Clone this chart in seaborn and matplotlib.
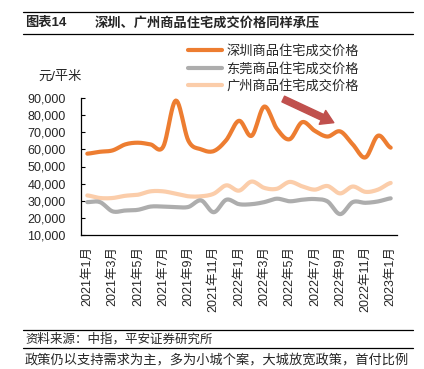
import numpy as np
import pandas as pd
import matplotlib
matplotlib.use("Agg")
import matplotlib.pyplot as plt
import seaborn as sns
from matplotlib.lines import Line2D

# monthly prices, yuan per square metre, 2021-01 .. 2023-01
months = [f"{y}年{m}月" for y in (2021, 2022) for m in range(1, 13)] + ["2023年1月"]
shenzhen = [57500, 58600, 59400, 62900, 63900, 62900, 61500, 88500, 65000, 60000,
            59000, 65500, 76700, 67900, 85000, 72000, 65900, 75900, 70800, 67500,
            70500, 62900, 55300, 68000, 61000]
dongguan = [29200, 29200, 23800, 24300, 24700, 26600, 26600, 26300, 26400, 30200,
            23300, 30600, 28000, 28000, 29200, 31200, 29700, 30600, 31000, 29600,
            22200, 29200, 28800, 29600, 31400]
guangzhou = [33100, 31600, 31600, 32900, 33500, 35500, 35500, 34100, 32600, 32600,
             34100, 39000, 35900, 41200, 37500, 37000, 41000, 38400, 36500, 38600,
             34300, 38300, 35200, 36500, 40400]
series_names = ["深圳商品住宅成交价格", "东莞商品住宅成交价格", "广州商品住宅成交价格"]
colors = ["#ED7D31", "#ADADAD", "#FBCDAA"]


def smooth(vals, steps=12):
    # catmull-rom curve through the points, like excel's smoothed line
    p = np.asarray(vals, dtype=float)
    p = np.concatenate([[p[0]], p, [p[-1]]])
    xs, ys = [], []
    for i in range(1, len(p) - 2):
        t = np.linspace(0, 1, steps, endpoint=False)
        p0, p1, p2, p3 = p[i - 1], p[i], p[i + 1], p[i + 2]
        y = 0.5 * (2 * p1 + (-p0 + p2) * t + (2 * p0 - 5 * p1 + 4 * p2 - p3) * t ** 2
                   + (-p0 + 3 * p1 - 3 * p2 + p3) * t ** 3)
        xs.append(i - 1 + t)
        ys.append(y)
    xs.append([len(vals) - 1])
    ys.append([vals[-1]])
    return np.concatenate(xs), np.concatenate(ys)


frames = []
for name, vals in zip(series_names, [shenzhen, dongguan, guangzhou]):
    xs, ys = smooth(vals)
    frames.append(pd.DataFrame({"x": xs, "price": ys, "series": name}))
df = pd.concat(frames, ignore_index=True)

sns.set_style("white")
plt.rcParams["font.family"] = ["Liberation Sans", "Noto Sans CJK SC"]
plt.rcParams["font.size"] = 9

fig = plt.figure(figsize=(4.24, 3.69), dpi=100)
ax = fig.add_axes([81 / 424, 1 - 235 / 369, 316 / 424, 137 / 369])

sns.lineplot(data=df, x="x", y="price", hue="series", hue_order=series_names[::-1],
             palette=dict(zip(series_names, colors)), linewidth=3.0, ax=ax,
             legend=False, sort=False)

ax.set_xlim(-0.5, len(months) - 0.5)
ax.set_ylim(10000, 90000)
ax.set_yticks(range(10000, 90001, 10000))
ax.set_yticklabels([f"{v:,}" for v in range(10000, 90001, 10000)], fontsize=9)
ax.set_xticks(np.arange(1.5, len(months) - 1, 2))
ax.set_xticklabels([])
ax.set_xticks(range(0, len(months), 2), minor=True)
ax.set_xticklabels(months[::2], minor=True, rotation=90, fontsize=9)
ax.tick_params(axis="x", which="major", direction="in", length=3, width=0.8, color="black")
ax.tick_params(axis="x", which="minor", length=0, pad=8)
ax.tick_params(axis="y", direction="in", length=3, width=0.8, color="black", pad=11,
               left=True)
ax.set_xlabel("")
ax.set_ylabel("")
for side in ["top", "right"]:
    ax.spines[side].set_visible(False)
for side in ["left", "bottom"]:
    ax.spines[side].set_color("black")
    ax.spines[side].set_linewidth(0.9)

# arrow showing the downtrend
ax.annotate("", xy=(19.5, 75600), xytext=(15.5, 89400),
            arrowprops=dict(arrowstyle="simple,head_length=0.9,head_width=1.1,tail_width=0.45",
                            color="#C0504D", shrinkA=0, shrinkB=0, mutation_scale=10),
            annotation_clip=False)

handles = [Line2D([0], [0], color=c, lw=3.0) for c in colors]
fig.legend(handles, series_names, loc="upper left", bbox_to_anchor=(188 / 424, 1 - 45 / 369),
           frameon=False, fontsize=9.5, handlelength=2.6, handletextpad=0.3,
           labelspacing=0.35, borderpad=0, borderaxespad=0)

fig.text(38 / 424, 1 - 77 / 369, "元/平米", fontsize=9.5, va="center", ha="left")

# title and source rules
fig.add_artist(Line2D([23 / 424, 413 / 424], [1 - 12 / 369] * 2, color="black", lw=0.9))
fig.add_artist(Line2D([23 / 424, 413 / 424], [1 - 34 / 369] * 2, color="black", lw=0.9))
fig.text(25 / 424, 1 - 23 / 369, "图表14", fontsize=9.5, weight="bold", va="center")
fig.text(95 / 424, 1 - 23 / 369, "深圳、广州商品住宅成交价格同样承压", fontsize=9.5,
         weight="bold", va="center")
fig.add_artist(Line2D([23 / 424, 413 / 424], [1 - 330 / 369] * 2, color="black", lw=0.9))
fig.add_artist(Line2D([23 / 424, 413 / 424], [1 - 348 / 369] * 2, color="black", lw=0.9))
fig.text(25 / 424, 1 - 339 / 369, "资料来源：中指，平安证券研究所", fontsize=9,
         style="italic", va="center")
fig.text(25 / 424, 1 - 360 / 369, "政策仍以支持需求为主，多为小城个案，大城放宽政策，首付比例",
         fontsize=9.5, va="center")

fig.savefig("out.png", dpi=100)
